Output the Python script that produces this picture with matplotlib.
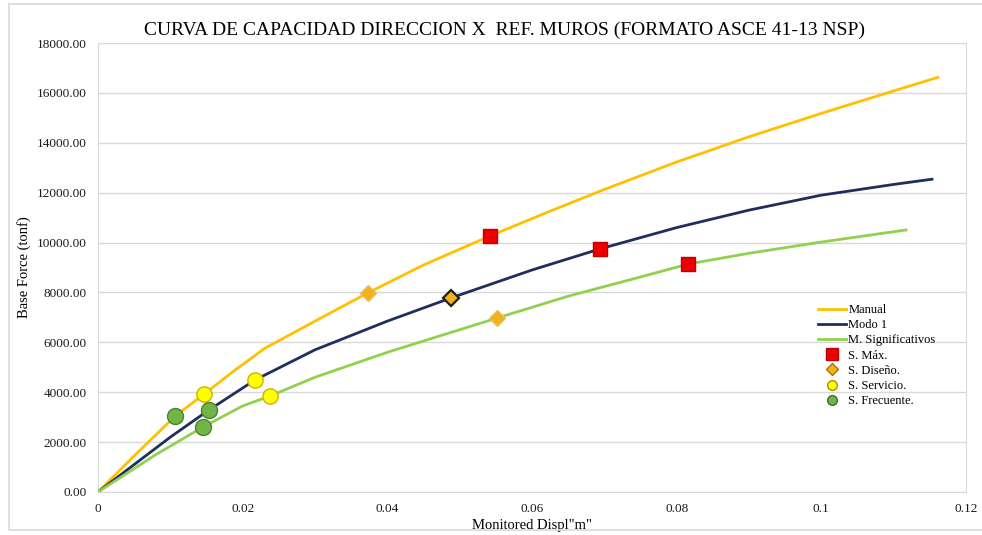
import matplotlib.pyplot as plt
from matplotlib.lines import Line2D
from matplotlib.patches import Rectangle

# curves (displacement m, base force tonf)
manual_x = [0, 0.005, 0.0107, 0.0147, 0.019, 0.023, 0.030, 0.0373, 0.045, 0.0542, 0.062, 0.070, 0.080, 0.090, 0.100, 0.110, 0.1161]
manual_y = [0, 1450, 3050, 3930, 4900, 5750, 6850, 7980, 9100, 10265, 11200, 12130, 13230, 14240, 15180, 16080, 16620]

modo_x = [0, 0.010, 0.01535, 0.0217, 0.030, 0.040, 0.0488, 0.060, 0.0694, 0.080, 0.090, 0.100, 0.110, 0.1153]
modo_y = [0, 2200, 3290, 4490, 5700, 6850, 7780, 8900, 9745, 10600, 11300, 11900, 12330, 12540]

msig_x = [0, 0.008, 0.01452, 0.020, 0.0238, 0.030, 0.040, 0.0552, 0.065, 0.075, 0.0816, 0.090, 0.100, 0.1117]
msig_y = [0, 1500, 2606, 3450, 3850, 4600, 5600, 6977, 7850, 8620, 9140, 9570, 10020, 10505]

# performance points: [manual, modo 1, m. significativos]
smax_x = [0.0542, 0.0694, 0.0816]
smax_y = [10265, 9745, 9140]
sdis_x = [0.0373, 0.0488, 0.0552]
sdis_y = [7980, 7780, 6977]
sser_x = [0.0147, 0.0217, 0.0238]
sser_y = [3930, 4490, 3850]
sfre_x = [0.0107, 0.01535, 0.01452]
sfre_y = [3050, 3290, 2606]

c_manual = "#FFC000"
c_modo = "#1F2F5C"
c_msig = "#92D050"

plt.rcParams['font.family'] = ['Liberation Serif', 'DejaVu Serif']

fig = plt.figure(figsize=(9.82, 5.35), dpi=100)
fig.patches.append(Rectangle((9/982, 5/535), 1.0, 526/535, transform=fig.transFigure,
                             fill=False, edgecolor="#D9D9D9", linewidth=1.2))
ax = fig.add_axes([98/982, 43/535, 868/982, 449/535])

ax.plot(manual_x, manual_y, color=c_manual, lw=2, zorder=3)
ax.plot(modo_x, modo_y, color=c_modo, lw=2, zorder=3)
ax.plot(msig_x, msig_y, color=c_msig, lw=2, zorder=3)

ax.plot(smax_x, smax_y, 's', ms=10.5, mfc="#EE0000", mec="#C00000", mew=1, ls='none', zorder=5)
ax.plot(sdis_x, sdis_y, 'D', ms=8, mfc="#F2B21E", mec="#E8C060", mew=1, ls='none', zorder=5)
ax.plot(sdis_x[1], sdis_y[1], 'D', ms=8, mfc="#F2B21E", mec="#202020", mew=1.6, zorder=6)
ax.plot(sser_x, sser_y, 'o', ms=11, mfc="#FFFF00", mec="#D4B000", mew=1, ls='none', zorder=5)
ax.plot(sfre_x, sfre_y, 'o', ms=11.5, mfc="#70B545", mec="#4F7F30", mew=1, ls='none', zorder=5)

ax.set_xlim(0, 0.12)
ax.set_ylim(0, 18000)
ax.set_xticks([0, 0.02, 0.04, 0.06, 0.08, 0.1, 0.12])
ax.set_xticklabels(["0", "0.02", "0.04", "0.06", "0.08", "0.1", "0.12"])
ax.set_yticks(range(0, 18001, 2000))
ax.set_yticklabels(["%.2f" % v for v in range(0, 18001, 2000)])
ax.tick_params(length=0, labelsize=9.5, colors="#1A1A1A", pad=8)
ax.grid(axis='y', color="#D9D9D9", lw=1)
ax.set_axisbelow(True)
for s in ax.spines.values():
    s.set_color("#D9D9D9")

ax.set_xlabel('Monitored Displ"m"', fontsize=10.5, labelpad=3)
ax.set_ylabel('Base Force (tonf)', fontsize=10.5, labelpad=4)
fig.text(505/982, 1 - 30/535, "CURVA DE CAPACIDAD DIRECCION X  REF. MUROS (FORMATO ASCE 41-13 NSP)",
         ha='center', va='center', fontsize=14)

handles = [
    Line2D([], [], color=c_manual, lw=2),
    Line2D([], [], color=c_modo, lw=2),
    Line2D([], [], color=c_msig, lw=2),
    Line2D([], [], marker='s', ls='none', ms=9, mfc="#EE0000", mec="#C00000"),
    Line2D([], [], marker='D', ls='none', ms=6, mfc="#F2B21E", mec="#B07000"),
    Line2D([], [], marker='o', ls='none', ms=7, mfc="#FFFF00", mec="#B09000"),
    Line2D([], [], marker='o', ls='none', ms=7, mfc="#70B545", mec="#3F6F20"),
]
labels = ["Manual", "Modo 1", "M. Significativos", "S. Máx.", "S. Diseño.", "S. Servicio.", "S. Frecuente."]
fig.legend(handles, labels, loc='upper left', bbox_to_anchor=(812/982, 1 - 298/535),
           frameon=False, fontsize=9, handlelength=2.2, handletextpad=0.2,
           labelspacing=0.25, borderpad=0)

fig.savefig("out.png", dpi=100)
